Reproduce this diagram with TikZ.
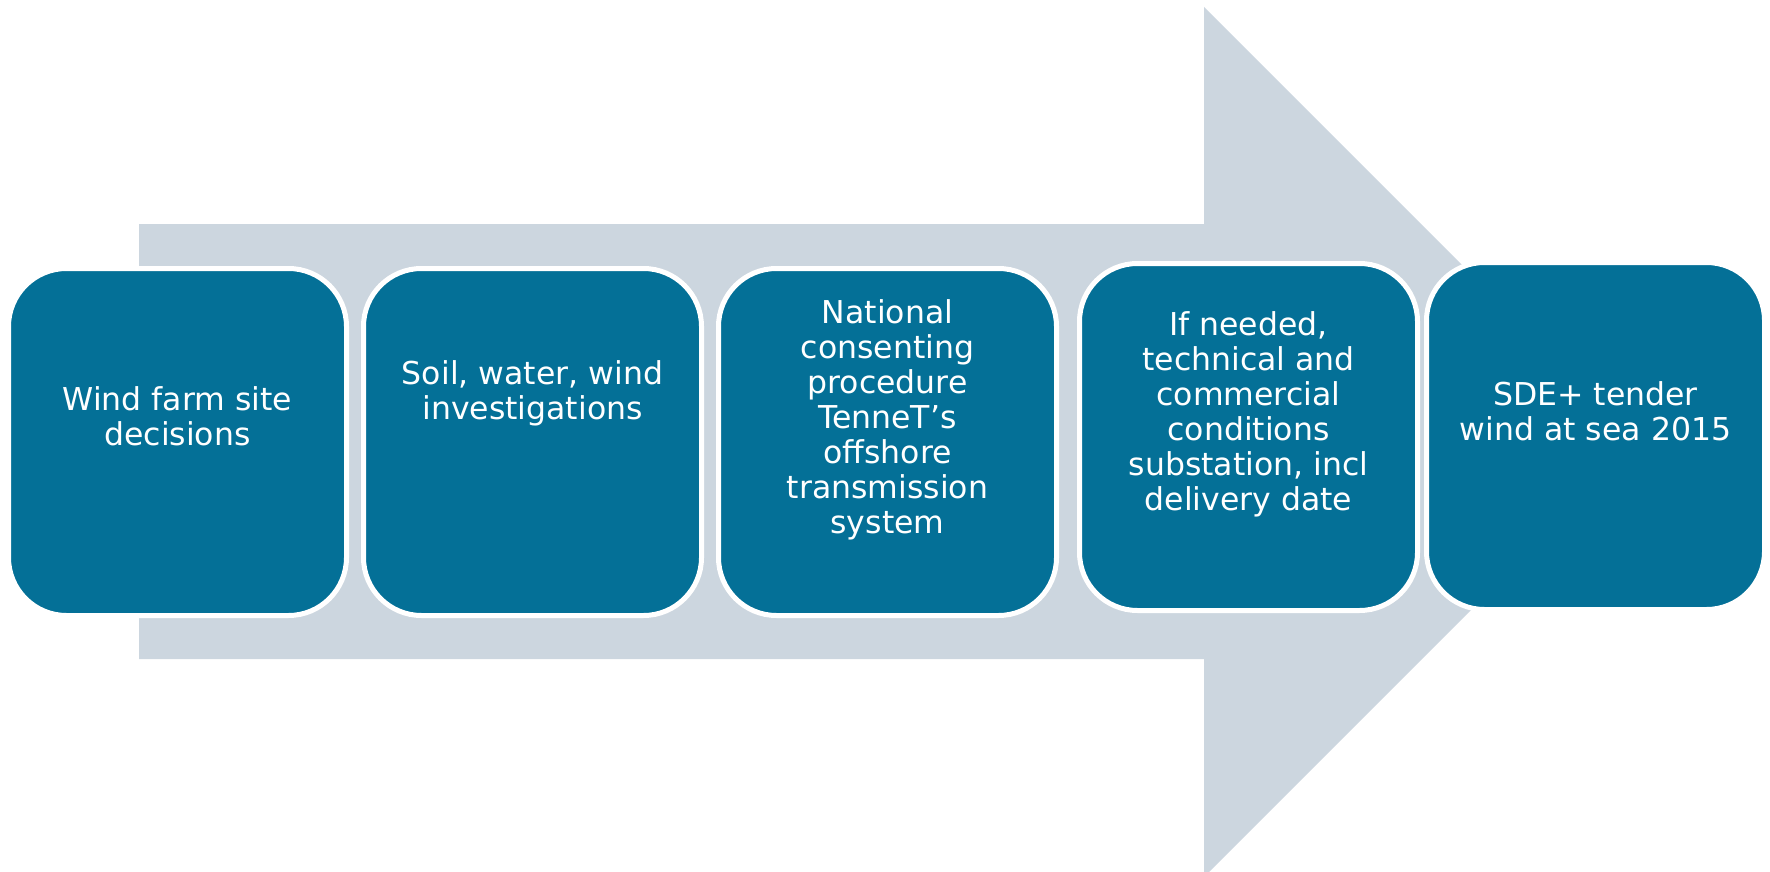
\documentclass[tikz,border=0pt]{standalone}
\usepackage{fontspec}
\setmainfont{DejaVu Sans}
\usetikzlibrary{positioning}
\definecolor{stageblue}{RGB}{4,112,151}
\definecolor{arrowgrey}{RGB}{204,214,223}

\begin{document}
\begin{tikzpicture}[
x=1pt,
y=-1pt,
stage/.style={
draw=white,
line width=5pt,
fill=stageblue,
rounded corners=58pt,
minimum width=338pt,
minimum height=347pt,
outer sep=0pt,
inner sep=0pt
},
stagetext/.style={
text=white,
align=center,
inner sep=0pt,
font=\fontsize{31.5}{35}\selectfont
}
]

\useasboundingbox (0,0) rectangle (1770,872);

%%%%%%%%%%%%%%%%%%%%%%%%%%%%%%%%%%%%
% Background Arrow
%%%%%%%%%%%%%%%%%%%%%%%%%%%%%%%%%%%%

\fill[arrowgrey] (139,224) -- (1204,224) -- (1204,7) -- (1639,442)
-- (1204,877) -- (1204,659) -- (139,659) -- cycle;

%%%%%%%%%%%%%%%%%%%%%%%%%%%%%%%%%%%%
% Stages
%%%%%%%%%%%%%%%%%%%%%%%%%%%%%%%%%%%%

\node[stage] (site) at (177.5,442) {};

\node[stage,right=17pt of site] (survey) {};

\node[stage,right=17pt of survey] (consent) {};

\node[stage,right=23pt of consent,yshift=5pt] (substation) {};

\node[stage,right=9pt of substation,yshift=1pt] (tender) {};

%%%%%%%%%%%%%%%%%%%%%%%%%%%%%%%%%%%%
% Texts
%%%%%%%%%%%%%%%%%%%%%%%%%%%%%%%%%%%%

\node[stagetext] (sitetext) at ([yshift=26pt]site.center)
{Wind farm site\\decisions};

\node[stagetext] (surveytext) at ([yshift=49pt]survey.center)
{Soil, water, wind\\investigations};

\node[stagetext] (consenttext) at ([yshift=22pt]consent.center)
{National\\consenting\\procedure\\TenneT’s\\offshore\\transmission\\system};

\node[stagetext] (substationtext) at ([yshift=23pt]substation.center)
{If needed,\\technical and\\commercial\\conditions\\substation, incl\\delivery date};

\node[stagetext] (tendertext) at ([yshift=25pt]tender.center)
{SDE+ tender\\wind at sea 2015};

\end{tikzpicture}
\end{document}
